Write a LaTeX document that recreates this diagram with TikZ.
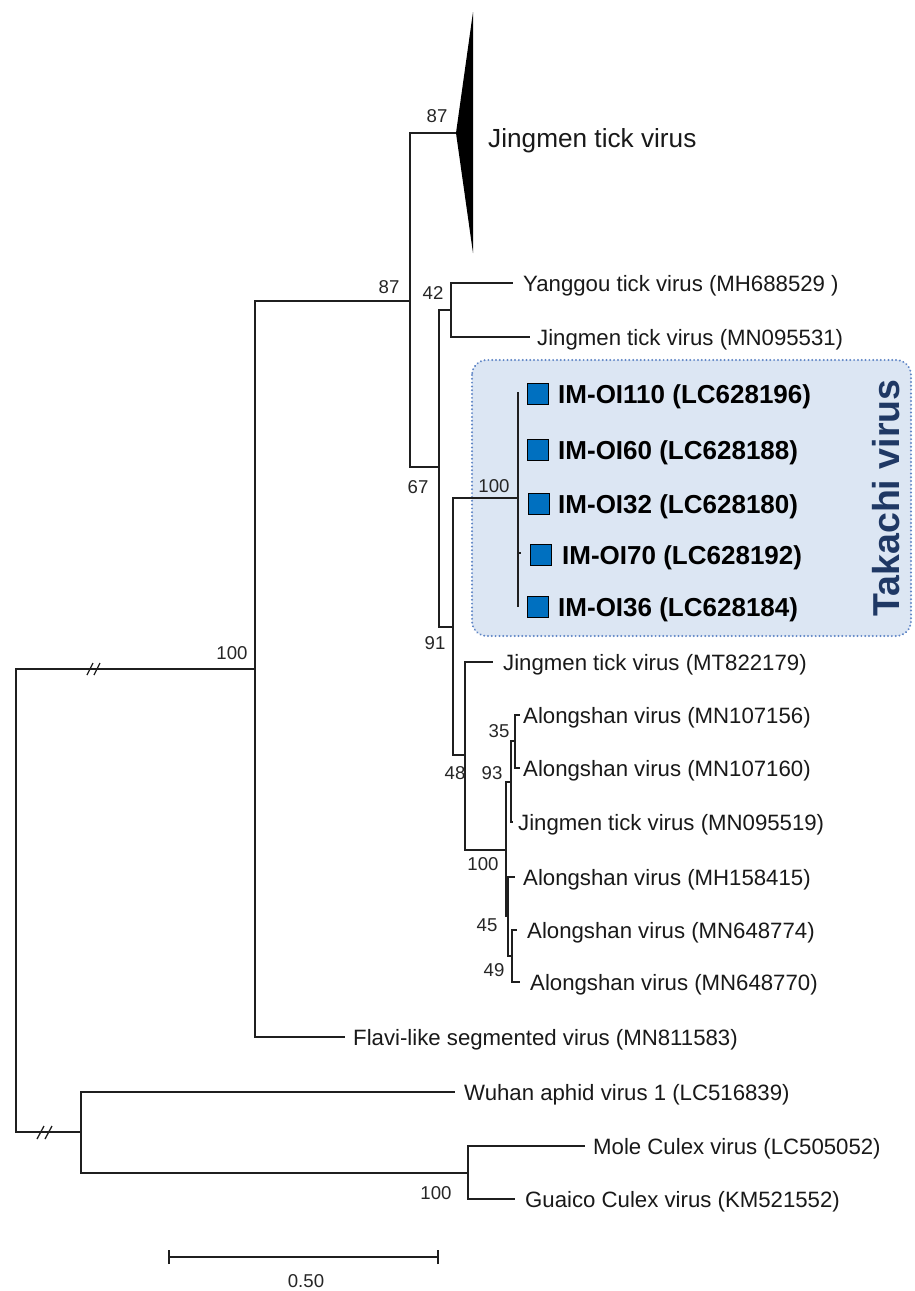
\documentclass[tikz,border=0pt]{standalone}
\usepackage{fontspec}
\setmainfont{Liberation Sans}
\definecolor{sqblue}{RGB}{0,112,192}
\definecolor{boxfill}{RGB}{220,230,243}
\definecolor{boxline}{RGB}{96,134,198}
\definecolor{navy}{RGB}{31,56,100}
\begin{document}
\begin{tikzpicture}[x=1pt,y=-1pt,
  br/.style={line width=1.3pt, draw=black!88},
  tip/.style={anchor=base west, inner sep=0pt, font=\fontsize{22.2}{26}\selectfont, text=black!90},
  bs/.style={inner sep=0pt, font=\fontsize{18.6}{22}\selectfont, text=black!85},
  tk/.style={anchor=base west, inner sep=0pt, font=\fontsize{26}{30}\selectfont\bfseries, text=black},
  sq/.style={draw=black, line width=1pt, fill=sqblue, minimum size=21pt, inner sep=0pt},
  takbox/.style={draw=boxline, fill=boxfill, rounded corners=15pt, line width=2.2pt, dash pattern=on 0.01pt off 3.8pt, line cap=round}]
\useasboundingbox (0,0) rectangle (914,1291);
\fill[white] (0,0) rectangle (914,1291);

% Takachi box
\draw[takbox] (472,360) rectangle (911,636);

% collapsed clade
\fill[black] (456,133) -- (473,12) -- (473,253) -- cycle;

% node coordinates
\coordinate (root) at (16,900);
\coordinate (n1) at (255,669);
\coordinate (n2) at (81,1132);
\coordinate (nA) at (410,301);
\coordinate (tJ) at (456,133);
\coordinate (nB) at (439,467);
\coordinate (nC) at (451,310);
\coordinate (tY) at (513,283);
\coordinate (tM31) at (530,337);
\coordinate (nD) at (453,627);
\coordinate (nT) at (518,498);
\coordinate (t1) at (518,392);
\coordinate (t2) at (518,448);
\coordinate (t3) at (518,503);
\coordinate (t4) at (521,553);
\coordinate (t5) at (518,607);
\coordinate (nE) at (465,755);
\coordinate (tMT) at (493,662);
\coordinate (nF) at (506,850);
\coordinate (nG) at (511,782);
\coordinate (nG1) at (515,741);
\coordinate (tA56) at (520,715);
\coordinate (tA60) at (520,768);
\coordinate (tM19) at (513,822);
\coordinate (nH) at (508,916);
\coordinate (tH15) at (515,877);
\coordinate (nH1) at (512,956);
\coordinate (tA74) at (517,930);
\coordinate (tA70) at (520,982);
\coordinate (tF) at (345,1037);
\coordinate (tW) at (455,1092);
\coordinate (nM) at (468,1173);
\coordinate (tMo) at (585,1146);
\coordinate (tG) at (515,1199);

% branches
\draw[br] (root) |- (n1);
\draw[br] (root) |- (n2);
\draw[br] (n1) |- (nA);
\draw[br] (n1) |- (tF);
\draw[br] (nA) |- (tJ);
\draw[br] (nA) |- (nB);
\draw[br] (nB) |- (nC);
\draw[br] (nB) |- (nD);
\draw[br] (nC) |- (tY);
\draw[br] (nC) |- (tM31);
\draw[br] (nD) |- (nT);
\draw[br] (nD) |- (nE);
\draw[br] (nT) |- (t1);
\draw[br] (nT) |- (t2);
\draw[br] (nT) |- (t3);
\draw[br] (nT) |- (t4);
\draw[br] (nT) |- (t5);
\draw[br] (nE) |- (tMT);
\draw[br] (nE) |- (nF);
\draw[br] (nF) |- (nG);
\draw[br] (nF) |- (nH);
\draw[br] (nG) |- (nG1);
\draw[br] (nG) |- (tM19);
\draw[br] (nG1) |- (tA56);
\draw[br] (nG1) |- (tA60);
\draw[br] (nH) |- (tH15);
\draw[br] (nH) |- (nH1);
\draw[br] (nH1) |- (tA74);
\draw[br] (nH1) |- (tA70);
\draw[br] (n2) |- (tW);
\draw[br] (n2) |- (nM);
\draw[br] (nM) |- (tMo);
\draw[br] (nM) |- (tG);

% break marks
\draw[br] (87,675) -- (93,663);
\draw[br] (94,675) -- (100,663);
\draw[br] (37,1139) -- (44,1126);
\draw[br] (45,1139) -- (52,1126);

% scale bar
\coordinate (sbL) at (169,1257);
\coordinate (sbR) at (438,1257);
\draw[br] (sbL) -- (sbR);
\draw[br] ([yshift=-7pt]sbL) -- ([yshift=7pt]sbL);
\draw[br] ([yshift=-7pt]sbR) -- ([yshift=7pt]sbR);
\node[bs] (scl) at (306,1281) {0.50};

% tip labels
\node[anchor=base west, inner sep=0pt, font=\fontsize{26.2}{30}\selectfont, text=black!90] (lJ) at (488,147) {Jingmen tick virus};
\node[tip] (lY) at (523,291) {Yanggou tick virus (MH688529 )};
\node[tip] (lM31) at (537,345) {Jingmen tick virus (MN095531)};
\node[tip] (lMT) at (503,670) {Jingmen tick virus (MT822179)};
\node[tip] (lA56) at (523,723) {Alongshan virus (MN107156)};
\node[tip] (lA60) at (523,776) {Alongshan virus (MN107160)};
\node[tip] (lM19) at (518,830) {Jingmen tick virus (MN095519)};
\node[tip] (lH15) at (523,885) {Alongshan virus (MH158415)};
\node[tip] (lA74) at (527,938) {Alongshan virus (MN648774)};
\node[tip] (lA70) at (530,990) {Alongshan virus (MN648770)};
\node[tip] (lF) at (353,1045) {Flavi-like segmented virus (MN811583)};
\node[tip] (lW) at (464,1100) {Wuhan aphid virus 1 (LC516839)};
\node[tip] (lMo) at (593,1154) {Mole Culex virus (LC505052)};
\node[tip] (lG) at (525,1207) {Guaico Culex virus (KM521552)};

% Takachi strains
\node[sq] (s1) at (538,394) {};
\node[sq] (s2) at (538,449.5) {};
\node[sq] (s3) at (539,503.5) {};
\node[sq] (s4) at (541,554.5) {};
\node[sq] (s5) at (538,606.5) {};
\node[tk] (k1) at (558,403.5) {IM-OI110 (LC628196)};
\node[tk] (k2) at (558,459) {IM-OI60 (LC628188)};
\node[tk] (k3) at (558,513) {IM-OI32 (LC628180)};
\node[tk] (k4) at (562,564) {IM-OI70 (LC628192)};
\node[tk] (k5) at (558,616) {IM-OI36 (LC628184)};
\node[rotate=90, inner sep=0pt, font=\fontsize{37.5}{40}\selectfont\bfseries, text=navy] (tv) at (886,498) {Takachi virus};

% bootstrap values
\node[bs] (b1) at (437,116) {87};
\node[bs] (b2) at (389,287) {87};
\node[bs] (b3) at (433,293) {42};
\node[bs] (b4) at (418,487) {67};
\node[bs] (b5) at (494,486) {100};
\node[bs] (b6) at (435,643) {91};
\node[bs] (b7) at (455,773) {48};
\node[bs] (b8) at (499,731) {35};
\node[bs] (b9) at (492,773) {93};
\node[bs] (b10) at (483,864) {100};
\node[bs] (b11) at (487,925) {45};
\node[bs] (b12) at (494,970) {49};
\node[bs] (b13) at (232,653) {100};
\node[bs] (b14) at (436,1193) {100};
\end{tikzpicture}
\end{document}
